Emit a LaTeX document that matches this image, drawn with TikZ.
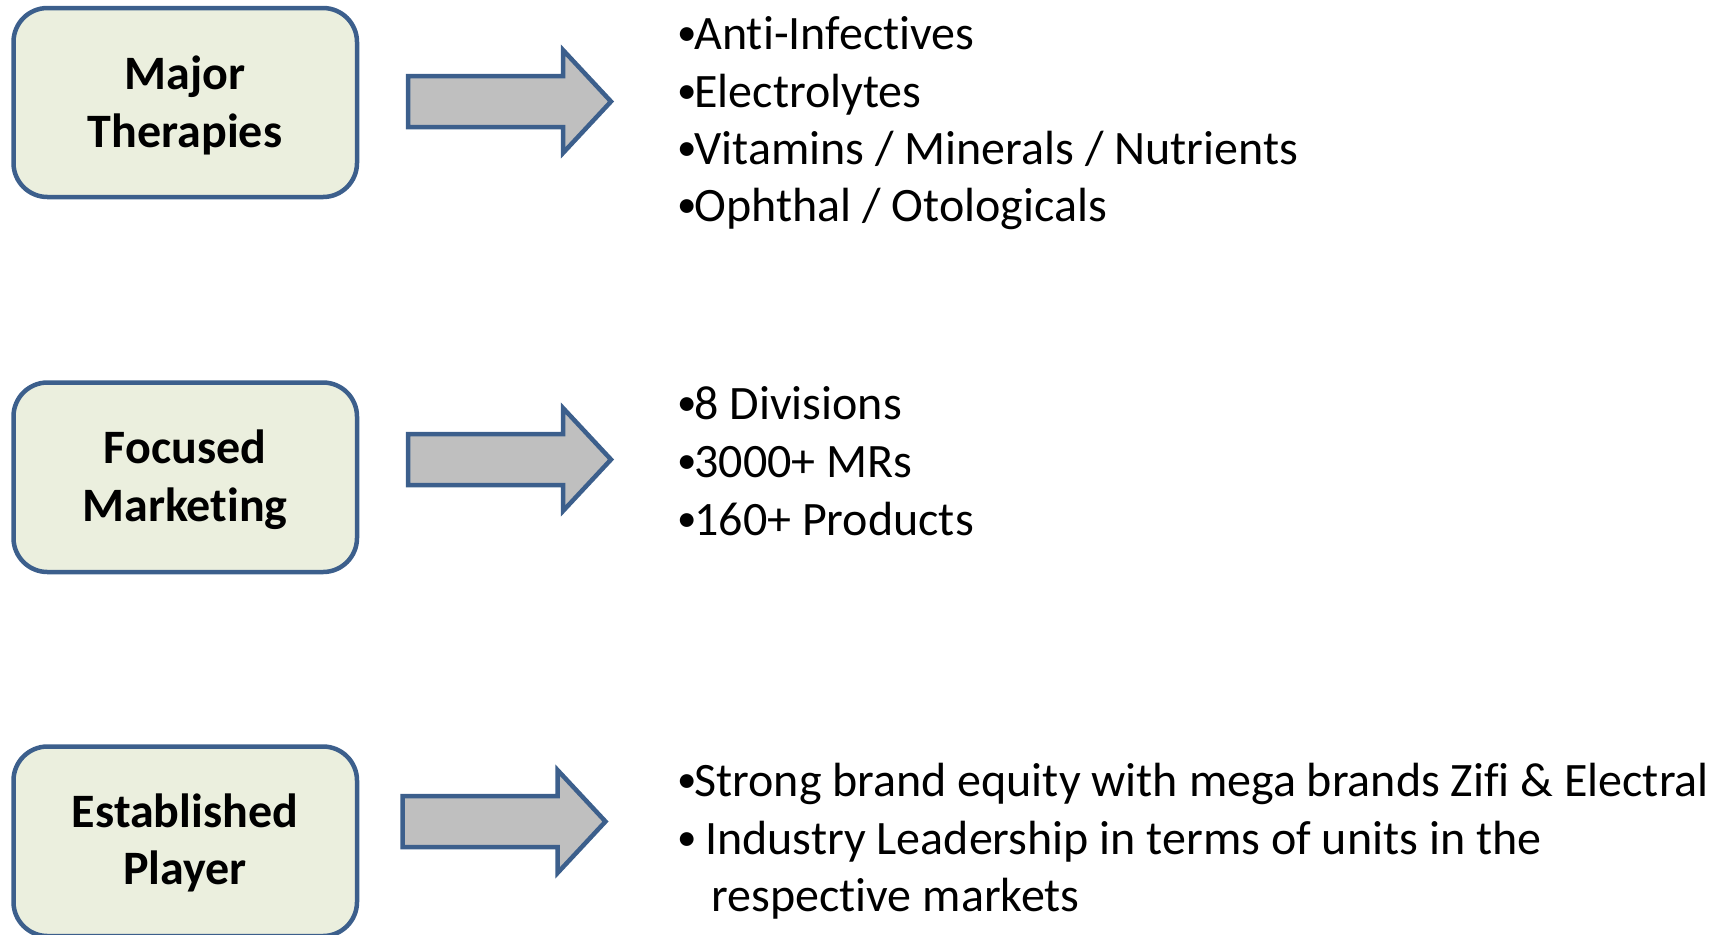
\documentclass[tikz,border=0pt]{standalone}
\usepackage{fontspec}
\setmainfont{Carlito}[Ligatures={NoCommon}]
\definecolor{boxfill}{HTML}{EBEFDE}
\definecolor{edgeblue}{HTML}{3C5F8C}
\definecolor{arrowgray}{HTML}{BFBFBF}
\newcommand\bul{\makebox[8.5pt][l]{\raisebox{1.6pt}{\fontsize{19.5}{20}\selectfont •}}}
\begin{document}
\begin{tikzpicture}[x=0.5pt,y=-0.5pt,
  catbox/.style={draw=edgeblue,fill=boxfill,line width=2.25pt,rounded corners=17pt},
  blockarrow/.style={draw=edgeblue,fill=arrowgray,line width=2.25pt,line join=miter},
  boxlabel/.style={anchor=base,inner sep=0pt,font=\fontsize{24}{28}\selectfont\bfseries},
  item/.style={anchor=base west,inner sep=0pt,font=\fontsize{24}{28}\selectfont}]
\useasboundingbox (0,0) rectangle (1729,934);
\clip (0,0) rectangle (1729,934);
% boxes
\draw[catbox] (13.5,8) rectangle (357,197);
\draw[catbox] (13.5,382.5) rectangle (357,572);
\draw[catbox] (13.5,746.5) rectangle (357,936);
\node[boxlabel] (b1a) at (185,89.5) {Major};
\node[boxlabel] (b1b) at (185,147) {Therapies};
\node[boxlabel] (b2a) at (185,463) {Focused};
\node[boxlabel] (b2b) at (185,521) {Marketing};
\node[boxlabel] (b3a) at (185,827) {Established};
\node[boxlabel] (b3b) at (185,884) {Player};
% block arrows
\foreach \dx/\cy in {0/101.5, 0/459.5, -5.5/821.5}{
  \draw[blockarrow] (408+\dx,\cy-25.5) -- (563+\dx,\cy-25.5) -- (563+\dx,\cy-51.5)
    -- (611+\dx,\cy) -- (563+\dx,\cy+51.5) -- (563+\dx,\cy+25.5)
    -- (408+\dx,\cy+25.5) -- cycle;
}
% lists
\node[item] (l1a) at (677,49) {\bul Anti-Infectives};
\node[item] (l1b) at (677,107) {\bul Electrolytes};
\node[item] (l1c) at (677,164) {\bul Vitamins / Minerals / Nutrients};
\node[item] (l1d) at (677,221) {\bul Ophthal / Otologicals};
\node[item] (l2a) at (677,419) {\bul 8 Divisions};
\node[item] (l2b) at (677,477) {\bul 3000+ MRs};
\node[item] (l2c) at (677,535) {\bul 160+ Products};
\node[item] (l3a) at (677,796) {\bul Strong brand equity with mega brands Zifi \& Electral};
\node[item] (l3b) at (677,854) {\bul\ Industry Leadership in terms of units in the};
\node[item] (l3c) at (711,911) {respective markets};
\end{tikzpicture}
\end{document}
